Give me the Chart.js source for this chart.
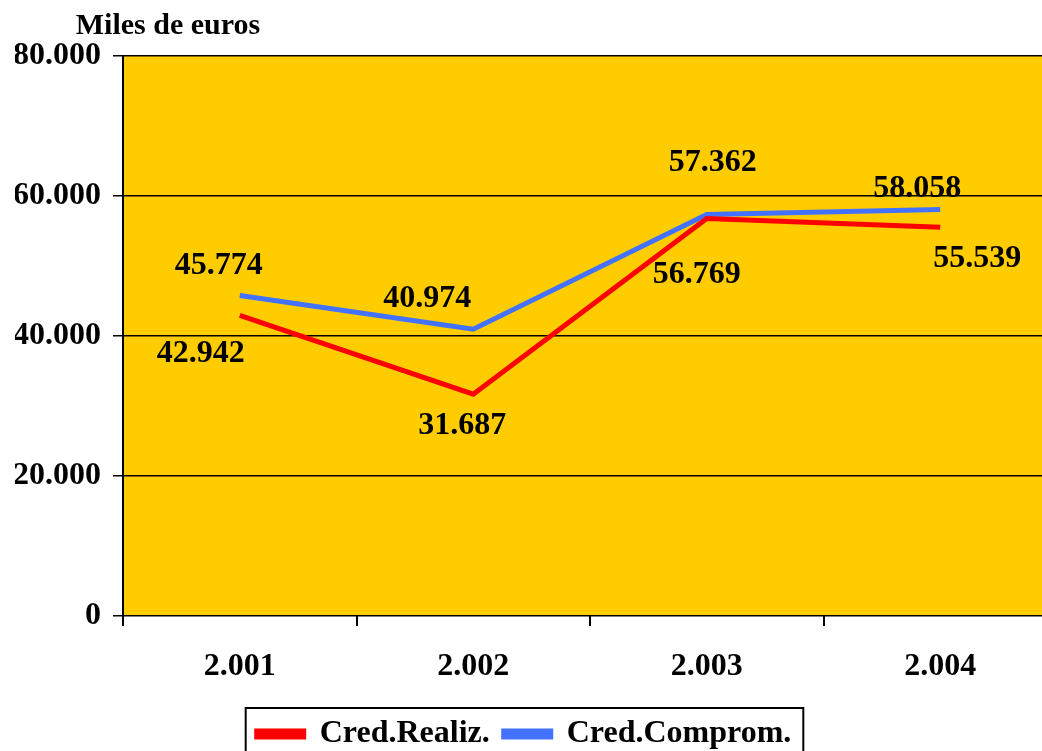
<!DOCTYPE html>
<html>
<head>
<meta charset="utf-8">
<script src="https://cdn.jsdelivr.net/npm/chart.js@4/dist/chart.umd.min.js"></script>
<style>
  body { margin: 0; background: #fff; overflow: hidden; }
  #wrap { width: 1060px; height: 751px; }
</style>
</head>
<body>
<div id="wrap"><canvas id="chart" width="1060" height="751"></canvas></div>
<script>
// datos del gráfico
const years = ['2.001', '2.002', '2.003', '2.004'];
const credRealiz = [42942, 31687, 56769, 55539];
const credComprom = [45774, 40974, 57362, 58058];
const yTicks = [0, 20000, 40000, 60000, 80000];

// desplazamiento de las etiquetas respecto al punto (px)
const labelOffsets = [
    [[-39, 38], [-11, 32], [-10, 56], [37, 32]],
    [[-21, -30], [-46, -30], [6, -52], [-23, -21]]
];

const FONT = "'Liberation Serif', 'Times New Roman', serif";

function fmt(v) {
    return String(v).replace(/\B(?=(\d{3})+(?!\d))/g, '.');
}

// fondo dorado del área de trazado
const plotBackground = {
    id: 'plotBackground',
    afterLayout(chart) {
        // la leyenda del original no está centrada en el lienzo
        chart.legend.left -= 12;
        chart.legend.right -= 12;
    },
    beforeDraw(chart) {
        const { ctx, chartArea } = chart;
        ctx.save();
        ctx.fillStyle = '#FFCC00';
        ctx.fillRect(chartArea.left, chartArea.top, chartArea.right - chartArea.left, chartArea.bottom - chartArea.top);
        ctx.restore();
    }
};

// etiquetas de valores, título del eje y marco de la leyenda
const extras = {
    id: 'extras',
    afterDraw(chart) {
        const ctx = chart.ctx;
        ctx.save();
        ctx.fillStyle = '#000';
        ctx.textAlign = 'center';
        ctx.textBaseline = 'middle';
        ctx.font = 'bold 32px ' + FONT;
        chart.data.datasets.forEach((ds, i) => {
            chart.getDatasetMeta(i).data.forEach((pt, j) => {
                const off = labelOffsets[i][j];
                ctx.fillText(fmt(ds.data[j]), pt.x + off[0], pt.y + off[1]);
            });
        });

        ctx.font = 'bold 30px ' + FONT;
        ctx.fillText('Miles de euros', 168, 26);

        const boxes = chart.legend.legendHitBoxes;
        if (boxes && boxes.length) {
            const first = boxes[0];
            const last = boxes[boxes.length - 1];
            const x0 = first.left - 11;
            const x1 = last.left + last.width + 12;
            const y0 = first.top + first.height / 2 - 26;
            ctx.strokeStyle = '#000';
            ctx.lineWidth = 2;
            ctx.strokeRect(x0, y0, x1 - x0, 90);
        }
        ctx.restore();
    }
};

const ctx = document.getElementById('chart').getContext('2d');

new Chart(ctx, {
    type: 'line',
    data: {
        labels: years,
        datasets: [
            {
                label: 'Cred.Realiz.',
                data: credRealiz,
                borderColor: '#FF0000',
                backgroundColor: '#FF0000',
                borderWidth: 5,
                pointRadius: 0,
                tension: 0
            },
            {
                label: 'Cred.Comprom.',
                data: credComprom,
                borderColor: '#4272FF',
                backgroundColor: '#4272FF',
                borderWidth: 5,
                pointRadius: 0,
                tension: 0
            }
        ]
    },
    options: {
        responsive: false,
        animation: false,
        layout: { padding: { top: 56, left: 15, right: 3, bottom: -9 } },
        plugins: {
            tooltip: { enabled: false },
            legend: {
                position: 'bottom',
                labels: {
                    color: '#000',
                    font: { family: FONT, size: 32, weight: 'bold' },
                    boxWidth: 47,
                    boxHeight: 6,
                    padding: 14
                }
            }
        },
        scales: {
            x: {
                offset: true,
                afterFit(axis) {
                    axis.height = 88;
                },
                grid: {
                    offset: true,
                    drawOnChartArea: false,
                    color: '#000',
                    lineWidth: 2,
                    tickLength: 10
                },
                border: { display: false },
                ticks: {
                    color: '#000',
                    padding: 22,
                    font: { family: FONT, size: 32, weight: 'bold' }
                }
            },
            y: {
                min: 0,
                max: 80000,
                afterBuildTicks(axis) {
                    axis.ticks = yTicks.map(v => ({ value: v }));
                },
                afterFit(axis) {
                    axis.width = 108;
                },
                grid: {
                    color: '#000',
                    lineWidth: 1.5,
                    tickLength: 10
                },
                border: { color: '#000', width: 2 },
                ticks: {
                    color: '#000',
                    padding: 12,
                    font: { family: FONT, size: 32, weight: 'bold' },
                    callback: v => fmt(v)
                }
            }
        }
    },
    plugins: [plotBackground, extras]
});
</script>
</body>
</html>
